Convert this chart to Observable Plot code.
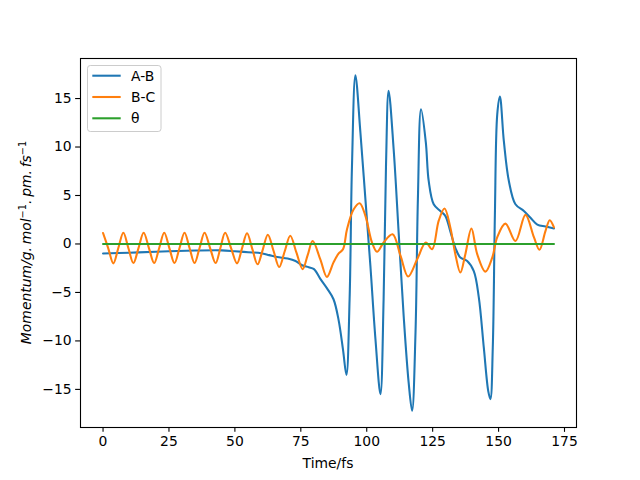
<!DOCTYPE html>
<html>
<head>
<meta charset="utf-8">
<script src="https://cdn.jsdelivr.net/npm/d3@7"></script>
<script src="https://cdn.jsdelivr.net/npm/@observablehq/plot@0.6"></script>
<style>
  html, body { margin: 0; padding: 0; background: #fff; }
  #chart svg { display: block; }
</style>
</head>
<body>
<div id="chart"></div>
<script>
// ---- data ----
const seriesNames = ["A-B", "B-C", "θ"];
const seriesColors = ["#1f77b4", "#ff7f0e", "#2ca02c"];

const abTime = [0, 10, 20, 25, 35, 45, 50, 55, 60, 63, 66, 70, 73, 75.5, 78, 80, 82.4, 85, 87.4, 89.3, 91.0, 92.3, 93.5, 94.4, 95.7, 97.6, 99.5, 101.4, 103.3, 105.2, 106.4, 107.3, 108.3, 110.2, 112.1, 114.0, 115.9, 117.2, 118.5, 119.4, 120.6, 122.4, 123.5, 125.4, 127.9, 129.8, 131.7, 133.6, 135.5, 138.1, 140.6, 142.5, 144.4, 146.1, 146.9, 147.8, 148.6, 149.5, 150.5, 152.0, 153.9, 156.4, 159.6, 162.1, 164.7, 167.8, 171.0];
const abValue = [-0.98, -0.9, -0.8, -0.75, -0.68, -0.66, -0.75, -0.85, -0.95, -1.15, -1.35, -1.5, -1.75, -2.2, -2.4, -2.6, -3.6, -4.6, -5.7, -7.8, -10.9, -13.5, -5.7, 8.0, 17.4, 11.5, 4.6, -2.3, -9.8, -15.5, -5.7, 8.0, 15.8, 9.8, 1.2, -7.4, -14.3, -17.2, -9.1, 4.6, 13.9, 10.5, 6.5, 4.1, 3.4, 2.9, 1.3, -0.4, -1.4, -1.75, -2.8, -5.5, -10.7, -15.2, -16.0, -10.7, 3.0, 13.4, 15.2, 10.6, 6.5, 4.1, 3.4, 2.7, 2.0, 1.8, 1.6];

const bcTime = [0, 1.95, 3.9, 5.8, 7.7, 9.6, 11.5, 13.45, 15.4, 17.4, 19.4, 21.3, 23.2, 25.15, 27.1, 29.0, 30.9, 32.8, 34.7, 36.6, 38.5, 40.6, 42.7, 44.5, 46.3, 48.55, 50.8, 52.7, 54.6, 56.6, 58.6, 60.55, 62.5, 64.65, 66.8, 68.9, 71.0, 73.35, 75.7, 77.6, 79.5, 82.4, 84.9, 87.4, 89.3, 91.0, 92.5, 95.0, 97.3, 99.5, 102.0, 103.9, 106.4, 109.8, 112.8, 115.7, 119.1, 122.4, 124.8, 127.3, 129.5, 131.7, 133.6, 135.5, 137.4, 139.7, 141.9, 145.0, 147.6, 149.5, 152.6, 156.4, 160.2, 163.4, 165.5, 167.8, 169.4, 171.0];
const bcValue = [1.13, -0.42, -2.0, -0.42, 1.15, -0.42, -1.97, -0.42, 1.15, -0.42, -1.97, -0.42, 1.15, -0.42, -1.97, -0.42, 1.15, -0.42, -1.97, -0.42, 1.15, -0.42, -1.97, -0.42, 1.15, -0.42, -2.0, -0.45, 1.1, -0.5, -2.1, -0.6, 0.95, -0.7, -2.37, -0.75, 0.85, -0.9, -2.6, -1.15, 0.3, -1.6, -3.4, -1.9, -1.0, -0.55, 1.5, 3.55, 4.2, 2.9, 0.15, -0.8, 0.15, 1.0, -1.2, -3.35, -1.6, 0.15, -0.55, 2.4, 3.65, 1.7, -1.05, -2.95, -1.05, 1.6, -1.05, -2.85, -1.4, 0.7, 2.1, 0.3, 3.0, 0.7, -0.6, 1.35, 2.45, 1.7];

const thetaTime = [0, 171.0];
const thetaValue = [0, 0];

const xTicks = [0, 25, 50, 75, 100, 125, 150, 175];
const yTicks = [-15, -10, -5, 0, 5, 10, 15];

// ---- build tables ----
const ab = abTime.map((t, i) => ({t, v: abValue[i]}));
const bc = bcTime.map((t, i) => ({t, v: bcValue[i]}));
const th = thetaTime.map((t, i) => ({t, v: thetaValue[i]}));

const W = 640, H = 480;
const mL = 80, mR = 64, mT = 58, mB = 53;
const fs = 13.9;
const fmt = d3.format("d");

const svg = Plot.plot({
  width: W,
  height: H,
  marginLeft: mL,
  marginRight: mR,
  marginTop: mT,
  marginBottom: mB,
  style: {fontFamily: "'DejaVu Sans', sans-serif", fontSize: fs + "px", color: "#000", background: "#fff"},
  x: {domain: [-8.55, 179.55]},
  y: {domain: [-18.93, 19.13]},
  marks: [
    Plot.line(ab, {x: "t", y: "v", stroke: seriesColors[0], strokeWidth: 2.08, curve: "catmull-rom"}),
    Plot.line(bc, {x: "t", y: "v", stroke: seriesColors[1], strokeWidth: 2.08, curve: "catmull-rom"}),
    Plot.line(th, {x: "t", y: "v", stroke: seriesColors[2], strokeWidth: 2.08}),
    Plot.axisX({ticks: xTicks, tickSize: 4.86, tickPadding: 4.0, tickFormat: fmt, label: null, fontSize: fs, strokeWidth: 1.1}),
    Plot.axisY({ticks: yTicks, tickSize: 4.86, tickPadding: 4.0, tickFormat: fmt, label: null, fontSize: fs, strokeWidth: 1.1}),
    Plot.frame({stroke: "#000", strokeWidth: 1.1})
  ]
});

const s = d3.select(svg);

// x label
s.append("text")
  .attr("x", (mL + (W - mR)) / 2)
  .attr("y", 468)
  .attr("text-anchor", "middle")
  .attr("font-family", "'DejaVu Sans', sans-serif")
  .attr("font-size", fs)
  .attr("fill", "#000")
  .text("Time/fs");

// y label with superscripts
const yl = s.append("text")
  .attr("transform", `translate(31, ${(mT + (H - mB)) / 2}) rotate(-90)`)
  .attr("text-anchor", "middle")
  .attr("font-family", "'DejaVu Sans', sans-serif")
  .attr("font-size", fs)
  .attr("fill", "#000");
const yParts = [
  {t: "Momentum/g.\u2009mol", sup: false},
  {t: "\u22121", sup: true},
  {t: ".\u2009pm.\u2009fs", sup: false},
  {t: "\u22121", sup: true}
];
let prevSup = false;
yParts.forEach(p => {
  const ts = yl.append("tspan").text(p.t);
  if (p.sup) {
    ts.attr("font-size", fs * 0.7).attr("dy", -5.5).attr("font-style", "normal");
  } else {
    ts.attr("font-style", "italic");
    if (prevSup) ts.attr("dy", 5.5);
  }
  prevSup = p.sup;
});

// legend
const lg = s.append("g").attr("text-anchor", "start");
lg.append("rect")
  .attr("x", 87.5).attr("y", 65.5)
  .attr("width", 73.5).attr("height", 66)
  .attr("rx", 2.8)
  .attr("fill", "#fff").attr("fill-opacity", 0.8)
  .attr("stroke", "#cccccc").attr("stroke-width", 1);
seriesNames.forEach((name, i) => {
  const yy = 75.7 + i * 21.3;
  lg.append("line")
    .attr("x1", 92.3).attr("x2", 120.7)
    .attr("y1", yy).attr("y2", yy)
    .attr("stroke", seriesColors[i]).attr("stroke-width", 2.08);
  lg.append("text")
    .attr("x", 131).attr("y", yy + 5)
    .attr("text-anchor", "start")
    .attr("font-family", "'DejaVu Sans', sans-serif")
    .attr("font-size", fs)
    .attr("fill", "#000")
    .text(name);
});

document.getElementById("chart").appendChild(svg);
</script>
</body>
</html>
